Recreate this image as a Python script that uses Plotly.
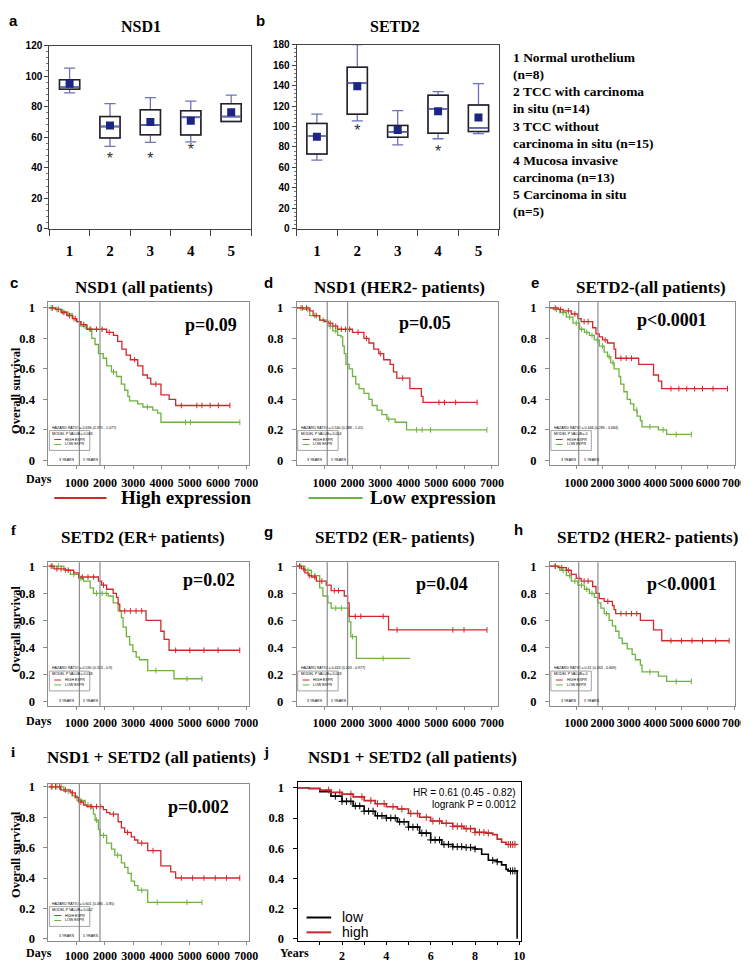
import numpy as np
import plotly.graph_objects as go

W, H = 749, 963
SERIF = "Liberation Serif"
SANS = "Liberation Sans"
RED = "#d3272b"
GREEN = "#6db33f"
GREY = "#8c8c8c"
BOX_BLUE = "#6e73b8"
NAVY = "#1b2584"
J_RED = "#c8262a"

# ---------------- data: box plots ----------------
GROUPS = [1, 2, 3, 4, 5]
GROUP_LABELS = ["1", "2", "3", "4", "5"]

NSD1_LOW = [89, 54, 56.6, 57, 70.3]
NSD1_Q1 = [91.5, 59.5, 61.6, 61.5, 70.3]
NSD1_MED = [93, 67, 68, 73, 73.5]
NSD1_Q3 = [97.7, 73.5, 78, 77.4, 82]
NSD1_HIGH = [105.3, 82, 86, 83.7, 87.6]
NSD1_MEAN = [95, 67.7, 70, 70.7, 76.3]
NSD1_STAR_GROUPS = [2, 3, 4]
NSD1_STAR_Y = [45, 45, 51]

SETD2_LOW = [67, 105.5, 82, 88, 93]
SETD2_Q1 = [73, 112, 89.4, 93.5, 95]
SETD2_MED = [91, 142.6, 94.5, 117, 98.4]
SETD2_Q3 = [103, 158, 101, 130.6, 121]
SETD2_HIGH = [112, 180, 115.5, 134, 142]
SETD2_MEAN = [90, 139.4, 96.5, 115, 108.7]
SETD2_STAR_GROUPS = [2, 4]
SETD2_STAR_Y = [95, 74]

GROUP_DESCRIPTIONS = [
    "1 Normal urothelium", "(n=8)", "2 TCC with carcinoma", "in situ (n=14)",
    "3 TCC without", "carcinoma in situ (n=15)", "4 Mucosa invasive",
    "carcinoma (n=13)", "5 Carcinoma in situ", "(n=5)",
]

# ---------------- data: Kaplan-Meier curves (days, survival) ----------------
C_HIGH_T = [0, 250, 450, 650, 850, 1000, 1150, 1360, 2060, 2300, 2450, 2600, 2750, 2900, 3160, 3340, 3500, 3620, 3980, 4270, 4500, 6420]
C_HIGH_S = [1, 0.99, 0.97, 0.95, 0.93, 0.91, 0.89, 0.86, 0.84, 0.82, 0.78, 0.73, 0.69, 0.66, 0.62, 0.56, 0.54, 0.50, 0.43, 0.40, 0.36, 0.36]
C_LOW_T = [0, 250, 450, 650, 850, 1000, 1150, 1360, 1535, 1650, 1770, 1940, 2060, 2230, 2410, 2580, 2700, 2810, 2870, 3160, 3340, 3690, 3860, 3980, 6770]
C_LOW_S = [1, 0.99, 0.975, 0.96, 0.93, 0.91, 0.88, 0.86, 0.80, 0.76, 0.70, 0.67, 0.62, 0.58, 0.55, 0.50, 0.46, 0.42, 0.39, 0.37, 0.35, 0.33, 0.31, 0.25, 0.25]
C_HIGH_CENS = [150, 350, 550, 750, 950, 1250, 1500, 1700, 1900, 2150, 3050, 3800, 4700, 5250, 5430, 5720, 6010, 6420]
C_LOW_CENS = [100, 300, 500, 700, 900, 1100, 1300, 1450, 2300, 3500, 4850, 5020, 6770]

D_HIGH_T = [0, 470, 590, 824, 1000, 1118, 1294, 1471, 2000, 2410, 2590, 2765, 2940, 3120, 3350, 3470, 3590, 4060, 4470, 4530, 6470]
D_HIGH_S = [1, 0.98, 0.95, 0.92, 0.91, 0.90, 0.88, 0.86, 0.84, 0.80, 0.77, 0.73, 0.70, 0.66, 0.63, 0.58, 0.54, 0.47, 0.42, 0.38, 0.38]
D_LOW_T = [0, 235, 470, 824, 1118, 1294, 1471, 1590, 1650, 1706, 1765, 1882, 2000, 2118, 2235, 2412, 2590, 2706, 2882, 3059, 3235, 3530, 3940, 6820]
D_LOW_S = [1, 0.99, 0.95, 0.92, 0.88, 0.85, 0.82, 0.81, 0.75, 0.70, 0.63, 0.60, 0.55, 0.50, 0.47, 0.44, 0.40, 0.36, 0.33, 0.30, 0.27, 0.25, 0.20, 0.20]
D_HIGH_CENS = [200, 350, 700, 1200, 1400, 1600, 1750, 1900, 2200, 2500, 3000, 3800, 5100, 5300, 5700, 6470]
D_LOW_CENS = [150, 400, 650, 950, 1200, 1400, 3300, 4300, 4500, 4800, 6820]

E_HIGH_T = [0, 312, 500, 812, 1062, 1188, 1625, 1750, 1875, 2000, 2188, 2438, 2500, 3375, 3938, 4125, 4250, 6750]
E_HIGH_S = [1, 0.99, 0.98, 0.96, 0.93, 0.91, 0.87, 0.83, 0.81, 0.79, 0.77, 0.73, 0.67, 0.63, 0.56, 0.52, 0.47, 0.47]
E_LOW_T = [0, 125, 375, 625, 875, 1125, 1312, 1500, 1688, 1875, 2062, 2188, 2312, 2438, 2625, 2688, 2812, 2938, 3062, 3188, 3312, 3438, 3500, 4125, 4438, 5375]
E_LOW_S = [1, 0.99, 0.97, 0.94, 0.90, 0.86, 0.84, 0.82, 0.79, 0.75, 0.71, 0.68, 0.64, 0.60, 0.55, 0.50, 0.45, 0.40, 0.37, 0.33, 0.29, 0.26, 0.22, 0.20, 0.17, 0.17]
E_HIGH_CENS = [200, 400, 700, 950, 1300, 1450, 2100, 2700, 2900, 3100, 4600, 4900, 5200, 5500, 5800, 6200, 6750]
E_LOW_CENS = [250, 500, 750, 1000, 1200, 1400, 1600, 1800, 2000, 2250, 2400, 3300, 3800, 4300, 4800, 5375]

F_HIGH_T = [0, 198, 605, 895, 1070, 1767, 1884, 2058, 2290, 2407, 2465, 2523, 3453, 3977, 4093, 4267, 6767]
F_HIGH_S = [1, 0.98, 0.97, 0.95, 0.92, 0.89, 0.86, 0.83, 0.80, 0.77, 0.72, 0.67, 0.60, 0.52, 0.46, 0.38, 0.38]
F_LOW_T = [0, 547, 779, 1070, 1244, 1477, 1593, 2116, 2291, 2465, 2581, 2640, 2756, 2872, 2988, 3105, 3221, 3512, 4442, 5430]
F_LOW_S = [1, 0.97, 0.94, 0.91, 0.89, 0.84, 0.80, 0.78, 0.73, 0.67, 0.62, 0.55, 0.48, 0.42, 0.37, 0.33, 0.31, 0.23, 0.17, 0.17]
F_HIGH_CENS = [100, 300, 450, 700, 1200, 1400, 1600, 1950, 2700, 2900, 3100, 3300, 4500, 5000, 5500, 6000, 6767]
F_LOW_CENS = [150, 350, 600, 900, 1150, 1700, 1900, 2050, 3800, 4900, 5430]

G_HIGH_T = [0, 176, 294, 412, 529, 706, 1059, 1235, 1706, 1824, 1882, 3294, 6824]
G_HIGH_S = [1, 0.98, 0.95, 0.93, 0.92, 0.89, 0.86, 0.82, 0.78, 0.73, 0.63, 0.53, 0.53]
G_LOW_T = [0, 294, 529, 824, 941, 1118, 1235, 1882, 1941, 2141, 4059]
G_LOW_S = [1, 0.97, 0.93, 0.84, 0.78, 0.73, 0.69, 0.59, 0.48, 0.32, 0.32]
G_HIGH_CENS = [100, 250, 450, 650, 900, 1350, 1500, 2100, 2300, 3100, 3600, 5600, 6000, 6824]
G_LOW_CENS = [150, 400, 650, 1400, 1600, 2000, 3100]

H_HIGH_T = [0, 312, 625, 812, 1000, 1188, 1625, 1750, 1875, 2062, 2375, 2438, 2500, 3438, 3938, 4250, 6812]
H_HIGH_S = [1, 0.99, 0.97, 0.94, 0.91, 0.89, 0.85, 0.80, 0.76, 0.74, 0.71, 0.68, 0.65, 0.60, 0.53, 0.45, 0.45]
H_LOW_T = [0, 375, 625, 812, 1062, 1312, 1500, 1688, 1812, 1938, 2062, 2250, 2375, 2500, 2625, 2750, 2938, 3125, 3250, 3438, 3500, 4125, 4438, 5375]
H_LOW_S = [1, 0.97, 0.93, 0.89, 0.86, 0.83, 0.80, 0.77, 0.73, 0.69, 0.65, 0.60, 0.56, 0.52, 0.47, 0.43, 0.39, 0.35, 0.31, 0.27, 0.22, 0.19, 0.15, 0.15]
H_HIGH_CENS = [200, 450, 700, 1100, 1300, 1450, 2200, 2700, 2900, 3100, 3300, 4600, 5000, 5400, 5800, 6300, 6812]
H_LOW_CENS = [200, 500, 750, 950, 1200, 1400, 1600, 2150, 3800, 4800, 5375]

I_HIGH_T = [0, 430, 779, 953, 1070, 1244, 1360, 1942, 2058, 2174, 2465, 2581, 2698, 2930, 3047, 3163, 3512, 3977, 4326, 4500, 6767]
I_HIGH_S = [1, 0.98, 0.96, 0.93, 0.90, 0.88, 0.87, 0.85, 0.83, 0.82, 0.77, 0.73, 0.70, 0.67, 0.65, 0.63, 0.58, 0.48, 0.44, 0.40, 0.40]
I_LOW_T = [0, 547, 837, 1012, 1302, 1535, 1593, 1651, 1767, 1826, 2058, 2233, 2349, 2581, 2698, 2814, 2930, 3047, 3163, 3512, 5430]
I_LOW_S = [1, 0.97, 0.94, 0.91, 0.88, 0.86, 0.82, 0.78, 0.72, 0.68, 0.63, 0.59, 0.55, 0.50, 0.47, 0.43, 0.38, 0.35, 0.32, 0.24, 0.24]
I_HIGH_CENS = [100, 250, 400, 600, 850, 1150, 1500, 1700, 1850, 2300, 2800, 3300, 3700, 4700, 5100, 5500, 5900, 6300, 6767]
I_LOW_CENS = [150, 300, 450, 700, 950, 1150, 1400, 1700, 1950, 2450, 3300, 3850, 4900, 5430]

# panel j (years)
J_HIGH_T = [0, 0.5, 1.0, 1.5, 2.0, 2.5, 3.0, 3.5, 4.0, 4.5, 5.0, 5.5, 6.0, 6.5, 7.0, 7.5, 8.0, 8.5, 8.8, 9.0, 9.2, 9.4, 9.9]
J_HIGH_S = [1, 0.995, 0.985, 0.97, 0.958, 0.94, 0.915, 0.895, 0.875, 0.86, 0.83, 0.805, 0.78, 0.765, 0.745, 0.73, 0.705, 0.70, 0.69, 0.66, 0.64, 0.625, 0.625]
J_LOW_T = [0, 0.5, 1.0, 1.5, 2.0, 2.5, 3.0, 3.5, 4.0, 4.5, 5.0, 5.5, 6.0, 6.5, 7.0, 7.5, 8.0, 8.3, 8.6, 9.0, 9.2, 9.4, 9.5, 9.85, 9.9]
J_LOW_S = [1, 0.995, 0.975, 0.945, 0.91, 0.88, 0.845, 0.815, 0.80, 0.775, 0.74, 0.70, 0.655, 0.625, 0.61, 0.605, 0.595, 0.56, 0.52, 0.51, 0.49, 0.46, 0.45, 0.45, 0.0]
J_HIGH_CENS = [1.4, 1.9, 2.4, 2.9, 3.3, 3.6, 3.9, 4.3, 4.7, 5.1, 5.4, 5.8, 6.1, 6.4, 6.7, 7.0, 7.2, 7.4, 7.6, 7.8, 8.0, 8.2, 8.4, 8.6, 9.5, 9.6, 9.7, 9.8]
J_LOW_CENS = [1.7, 2.0, 2.2, 2.4, 2.6, 2.8, 3.0, 3.2, 3.4, 3.6, 3.8, 4.0, 4.2, 4.4, 4.6, 4.8, 5.0, 5.2, 5.4, 5.6, 5.8, 6.0, 6.2, 6.4, 6.6, 6.8, 7.0, 7.2, 7.4, 7.6, 7.8, 8.0, 8.8, 9.0, 9.6, 9.7, 9.8]

YEAR_MARKS_DAYS = [1095, 1825]
DAY_TICKS = [1000, 2000, 3000, 4000, 5000, 6000, 7000]
SURV_TICKS = [0, 0.2, 0.4, 0.6, 0.8, 1]
SURV_LABELS = ["0", "0.2", "0.4", "0.6", "0.8", "1"]
YEAR_TICKS = [1, 2, 3, 4, 5, 6, 7, 8, 9, 10]
YEAR_LABELS = ["", "2", "", "4", "", "6", "", "8", "", "10"]

KM_PANELS = [
    ("c", 3, "NSD1 (all patients)", "p=0.09", C_HIGH_T, C_HIGH_S, C_HIGH_CENS, C_LOW_T, C_LOW_S, C_LOW_CENS, "0.636 (0.375 - 1.077)", "0.083"),
    ("d", 4, "NSD1 (HER2- patients)", "p=0.05", D_HIGH_T, D_HIGH_S, D_HIGH_CENS, D_LOW_T, D_LOW_S, D_LOW_CENS, "0.540 (0.288 - 1.01)", "0.054"),
    ("e", 5, "SETD2-(all patients)", "p<0.0001", E_HIGH_T, E_HIGH_S, E_HIGH_CENS, E_LOW_T, E_LOW_S, E_LOW_CENS, "0.446 (0.289 - 0.684)", "0"),
    ("f", 6, "SETD2 (ER+ patients)", "p=0.02", F_HIGH_T, F_HIGH_S, F_HIGH_CENS, F_LOW_T, F_LOW_S, F_LOW_CENS, "0.530 (0.313 - 0.9)", "0.018"),
    ("g", 7, "SETD2 (ER- patients)", "p=0.04", G_HIGH_T, G_HIGH_S, G_HIGH_CENS, G_LOW_T, G_LOW_S, G_LOW_CENS, "0.443 (0.203 - 0.977)", "0.043"),
    ("h", 8, "SETD2 (HER2- patients)", "p<0.0001", H_HIGH_T, H_HIGH_S, H_HIGH_CENS, H_LOW_T, H_LOW_S, H_LOW_CENS, "0.41 (0.263 - 0.669)", "0"),
    ("i", 9, "NSD1 + SETD2 (all patients)", "p=0.002", I_HIGH_T, I_HIGH_S, I_HIGH_CENS, I_LOW_T, I_LOW_S, I_LOW_CENS, "0.601 (0.486 - 0.85)", "0.002"),
]

# ---------------- layout geometry (pixels: left, top, right, bottom) ----------------
BOXES = {
    1: (42, 33, 247, 218), 2: (293, 32, 498, 218),
    3: (41, 292, 245, 457), 4: (293, 292, 497, 457), 5: (550, 292, 738, 457),
    6: (41, 555, 245, 700), 7: (293, 555, 497, 700), 8: (550, 555, 738, 700),
    9: (41, 779, 245, 938), 10: (294, 777, 521, 938),
}
XRANGES = {3: [0, 7108], 4: [0, 7208], 5: [0, 7041], 6: [0, 7108], 7: [0, 7208],
           8: [0, 7041], 9: [0, 7108], 10: [0, 10.09]}
YRANGES = {3: [-0.032, 1.039], 4: [-0.032, 1.039], 5: [-0.032, 1.039],
           6: [-0.029, 1.029], 7: [-0.029, 1.029], 8: [-0.029, 1.029],
           9: [-0.016, 1.019], 10: [-0.016, 1.039]}
XLABEL_STANDOFF = {3: 3, 4: 3, 5: 3, 6: 3, 7: 3, 8: 3, 9: 0, 10: 0}


def px(x):
    return x / W


def py(y):
    return 1 - y / H


def ax_names(k):
    return ("x" if k == 1 else f"x{k}"), ("y" if k == 1 else f"y{k}")


fig = go.Figure()
layout = dict(width=W, height=H, margin=dict(l=0, r=0, t=0, b=0),
              paper_bgcolor="white", plot_bgcolor="white", showlegend=False,
              boxmode="overlay")
shapes = []
annotations = []


def ann(text, x, y, size, family=SERIF, bold=True, color="black", xanchor="center",
        yanchor="middle", textangle=0):
    annotations.append(dict(
        text=(f"<b>{text}</b>" if bold else text), x=px(x), y=py(y), xref="paper", yref="paper",
        showarrow=False, xanchor=xanchor, yanchor=yanchor, textangle=textangle,
        font=dict(family=family, size=size, color=color)))


def axis_domain(k):
    l, t, r, b = BOXES[k]
    return [px(l), px(r)], [py(b), py(t)]


# ---------------- box plots ----------------
def box_panel(k, low, q1, med, q3, high, mean, star_g, star_y, yr, ytick_step):
    xa, ya = ax_names(k)
    fig.add_trace(go.Box(x=GROUPS, q1=q1, median=med, q3=q3, lowerfence=low, upperfence=high,
                         width=0.5, whiskerwidth=0.55, fillcolor="white",
                         line=dict(color=BOX_BLUE, width=1.3), xaxis=xa, yaxis=ya,
                         hoverinfo="skip"))
    fig.add_trace(go.Box(x=GROUPS, q1=q1, median=med, q3=q3, lowerfence=q1, upperfence=q3,
                         width=0.5, whiskerwidth=0.0, fillcolor="rgba(0,0,0,0)",
                         line=dict(color="#222222", width=1.5), xaxis=xa, yaxis=ya,
                         hoverinfo="skip"))
    mx, my = [], []
    for g, m in zip(GROUPS, med):
        mx += [g - 0.24, g + 0.24, None]
        my += [m, m, None]
    fig.add_trace(go.Scatter(x=mx, y=my, mode="lines", line=dict(color=BOX_BLUE, width=1.6),
                             xaxis=xa, yaxis=ya, hoverinfo="skip"))
    fig.add_trace(go.Scatter(x=GROUPS, y=mean, mode="markers",
                             marker=dict(symbol="square", size=8, color=NAVY),
                             xaxis=xa, yaxis=ya, hoverinfo="skip"))
    fig.add_trace(go.Scatter(x=star_g, y=star_y, mode="text", text=["*"] * len(star_g),
                             textfont=dict(family=SANS, size=16, color="#333333"),
                             xaxis=xa, yaxis=ya, hoverinfo="skip"))
    xd, yd = axis_domain(k)
    xkey = "xaxis" if k == 1 else f"xaxis{k}"
    ykey = "yaxis" if k == 1 else f"yaxis{k}"
    layout[xkey] = dict(domain=xd, anchor=ya, range=[0.5, 5.5], tickvals=GROUPS,
                        ticktext=GROUP_LABELS, ticks="", showline=True, mirror=True,
                        linecolor="#444444", linewidth=1.2, showgrid=False, zeroline=False,
                        ticklabelstandoff=8,
                        tickfont=dict(family=SERIF, size=15, color="black", weight="bold"),
                        minor=dict(tick0=0.5, dtick=1, ticks="outside", ticklen=6,
                                   tickcolor="#444444"))
    layout[ykey] = dict(domain=yd, anchor=xa, range=yr, dtick=ytick_step, ticks="outside",
                        ticklen=4, showline=True, mirror=True, linecolor="#444444",
                        linewidth=1.2, showgrid=False, zeroline=False,
                        tickfont=dict(family=SANS, size=10, color="black", weight="bold"),
                        minor=dict(dtick=ytick_step / 5, ticks="outside", ticklen=2,
                                   tickcolor="#777777"))


box_panel(1, NSD1_LOW, NSD1_Q1, NSD1_MED, NSD1_Q3, NSD1_HIGH, NSD1_MEAN,
          NSD1_STAR_GROUPS, NSD1_STAR_Y, [0, 120], 20)
box_panel(2, SETD2_LOW, SETD2_Q1, SETD2_MED, SETD2_Q3, SETD2_HIGH, SETD2_MEAN,
          SETD2_STAR_GROUPS, SETD2_STAR_Y, [0, 180], 20)


# ---------------- KM helpers ----------------
def step_at(T, S, times):
    T = np.asarray(T, float)
    S = np.asarray(S, float)
    idx = np.searchsorted(T, np.asarray(times, float), side="right") - 1
    idx = np.clip(idx, 0, len(S) - 1)
    return S[idx]


def km_curve(k, T, S, cens, color, width=1.3, symbol="line-ns", msize=4):
    xa, ya = ax_names(k)
    fig.add_trace(go.Scatter(x=T, y=S, mode="lines", line=dict(color=color, width=width, shape="hv"),
                             xaxis=xa, yaxis=ya, hoverinfo="skip"))
    fig.add_trace(go.Scatter(x=cens, y=step_at(T, S, cens), mode="markers",
                             marker=dict(symbol=symbol, size=msize,
                                         line=dict(color=color, width=1)),
                             xaxis=xa, yaxis=ya, hoverinfo="skip"))


for key, k, title, ptxt, hT, hS, hC, lT, lS, lC, hr, pv in KM_PANELS:
    km_curve(k, lT, lS, lC, GREEN)
    km_curve(k, hT, hS, hC, RED)
    xa, ya = ax_names(k)
    xd, yd = axis_domain(k)
    layout[f"xaxis{k}"] = dict(domain=xd, anchor=ya, range=XRANGES[k], tickvals=DAY_TICKS,
                               ticktext=[str(v) for v in DAY_TICKS], ticks="outside", ticklen=3,
                               tickcolor=GREY, showline=True, mirror=True, linecolor=GREY,
                               linewidth=1, showgrid=False, zeroline=False,
                               ticklabelstandoff=XLABEL_STANDOFF[k],
                               tickfont=dict(family=SERIF, size=12, color="black", weight="bold"))
    layout[f"yaxis{k}"] = dict(domain=yd, anchor=xa, range=YRANGES[k], tickvals=SURV_TICKS,
                               ticktext=SURV_LABELS, ticks="outside", ticklen=4, tickcolor=GREY,
                               showline=True, mirror=True, linecolor=GREY, linewidth=1,
                               showgrid=False, zeroline=False, ticklabelstandoff=6,
                               tickfont=dict(family=SERIF, size=12.5, color="black", weight="bold"))
    for t in YEAR_MARKS_DAYS:
        shapes.append(dict(type="line", xref=xa, yref=f"{ya} domain", x0=t, x1=t, y0=0, y1=1,
                           line=dict(color=GREY, width=1.2)))
    l, t_, r, b = BOXES[k]
    # tiny inner legend
    shapes.append(dict(type="rect", xref="paper", yref="paper", x0=px(l + 1), x1=px(l + 42),
                       y0=py(b - 15), y1=py(b - 35), line=dict(color=GREY, width=0.8),
                       fillcolor="rgba(255,255,255,0)"))
    ann(f"HAZARD RATIO = {hr}", l + 2, b - 38, 3.6, family=SANS, bold=False, xanchor="left")
    ann(f"MODEL P VALUE= {pv}", l + 2, b - 32, 3.6, family=SANS, bold=False, xanchor="left")
    shapes.append(dict(type="line", xref="paper", yref="paper", x0=px(l + 6), x1=px(l + 13),
                       y0=py(b - 26), y1=py(b - 26), line=dict(color=RED, width=1)))
    shapes.append(dict(type="line", xref="paper", yref="paper", x0=px(l + 6), x1=px(l + 13),
                       y0=py(b - 21), y1=py(b - 21), line=dict(color=GREEN, width=1)))
    ann("HIGH EXPR", l + 15, b - 26, 3.6, family=SANS, bold=False, xanchor="left")
    ann("LOW EXPR", l + 15, b - 21, 3.6, family=SANS, bold=False, xanchor="left")
    ann("3 YEARS", l + 19, b - 5, 3.6, family=SANS, bold=False)
    ann("5 YEARS", l + 43, b - 5, 3.6, family=SANS, bold=False)

# ---------------- panel j ----------------
km_curve(10, J_LOW_T, J_LOW_S, J_LOW_CENS, "black", width=1.6, symbol="cross-thin", msize=5)
km_curve(10, J_HIGH_T, J_HIGH_S, J_HIGH_CENS, J_RED, width=1.6, symbol="cross-thin", msize=5)
xd, yd = axis_domain(10)
layout["xaxis10"] = dict(domain=xd, anchor="y10", range=XRANGES[10], tickvals=YEAR_TICKS,
                         ticktext=YEAR_LABELS, ticks="outside", ticklen=3, tickcolor="black",
                         showline=True, mirror=True, linecolor="black", linewidth=1.3,
                         showgrid=False, zeroline=False, ticklabelstandoff=0,
                         tickfont=dict(family=SERIF, size=12, color="black", weight="bold"))
layout["yaxis10"] = dict(domain=yd, anchor="x10", range=YRANGES[10], tickvals=SURV_TICKS,
                         ticktext=SURV_LABELS, ticks="outside", ticklen=4, tickcolor="black",
                         showline=True, mirror=True, linecolor="black", linewidth=1.3,
                         showgrid=False, zeroline=False, ticklabelstandoff=6,
                         tickfont=dict(family=SERIF, size=12.5, color="black", weight="bold"))
ann("HR = 0.61 (0.45 - 0.82)", 518, 788, 10, family=SANS, bold=False, xanchor="right")
ann("logrank P = 0.0012", 518, 800, 10, family=SANS, bold=False, xanchor="right")
shapes.append(dict(type="line", xref="paper", yref="paper", x0=px(303), x1=px(328),
                   y0=py(914), y1=py(914), line=dict(color="black", width=2)))
shapes.append(dict(type="line", xref="paper", yref="paper", x0=px(303), x1=px(328),
                   y0=py(929), y1=py(929), line=dict(color=J_RED, width=2)))
ann("low", 337, 913, 14, family=SANS, bold=False, xanchor="left")
ann("high", 337, 929, 14, family=SANS, bold=False, xanchor="left")

# ---------------- titles, letters, labels ----------------
ann("NSD1", 135, 14, 16)
ann("SETD2", 393, 14, 16)
ann("a", 6, 8, 15, family=SANS)
ann("b", 256, 8, 15, family=SANS)
for i, line in enumerate(GROUP_DESCRIPTIONS):
    ann(line, 511, 45 + i * 17.3, 13.5, xanchor="left")

TITLE_POS = {3: (138, 277), 4: (397, 277), 5: (653, 277), 6: (137, 530), 7: (393, 530),
             8: (649, 530), 9: (146, 752)}
P_POS = {3: (206, 315), 4: (423, 313), 5: (674, 310), 6: (204, 573), 7: (440, 577),
         8: (684, 577), 9: (193, 802)}
LETTER_POS = {"c": (6, 272, SANS), "d": (264, 272, SANS), "e": (535, 272, SANS),
              "f": (6, 522, SERIF), "g": (264, 524, SANS), "h": (518, 522, SANS),
              "i": (5, 747, SERIF), "j": (262, 747, SERIF)}
for key, k, title, ptxt, *_ in KM_PANELS:
    ann(title, *TITLE_POS[k], 17)
    ann(ptxt, *P_POS[k], 18)
ann("NSD1 + SETD2 (all patients)", 411, 752, 17)
for letter, (x, y, fam) in LETTER_POS.items():
    ann(letter, x, y, 15, family=fam)

ann("Days", 31, 471, 12)
ann("Days", 31, 715, 12)
ann("Days", 31, 950, 12)
ann("Years", 291, 950, 12)
ann("Overall survival", 8, 381, 12.5, textangle=-90)
ann("Overall survival", 8, 622, 12.5, textangle=-90)
ann("Overall survival", 8, 850, 12.5, textangle=-90)

# big expression legend
shapes.append(dict(type="line", xref="paper", yref="paper", x0=px(47), x1=px(100),
                   y0=py(490), y1=py(490), line=dict(color=RED, width=2)))
shapes.append(dict(type="line", xref="paper", yref="paper", x0=px(305), x1=px(360),
                   y0=py(490), y1=py(490), line=dict(color=GREEN, width=2)))
ann("High expression", 113, 490, 19, xanchor="left")
ann("Low expression", 365, 490, 19, xanchor="left")

layout["shapes"] = shapes
layout["annotations"] = annotations
fig.update_layout(**layout)
fig.write_html("out.html")
